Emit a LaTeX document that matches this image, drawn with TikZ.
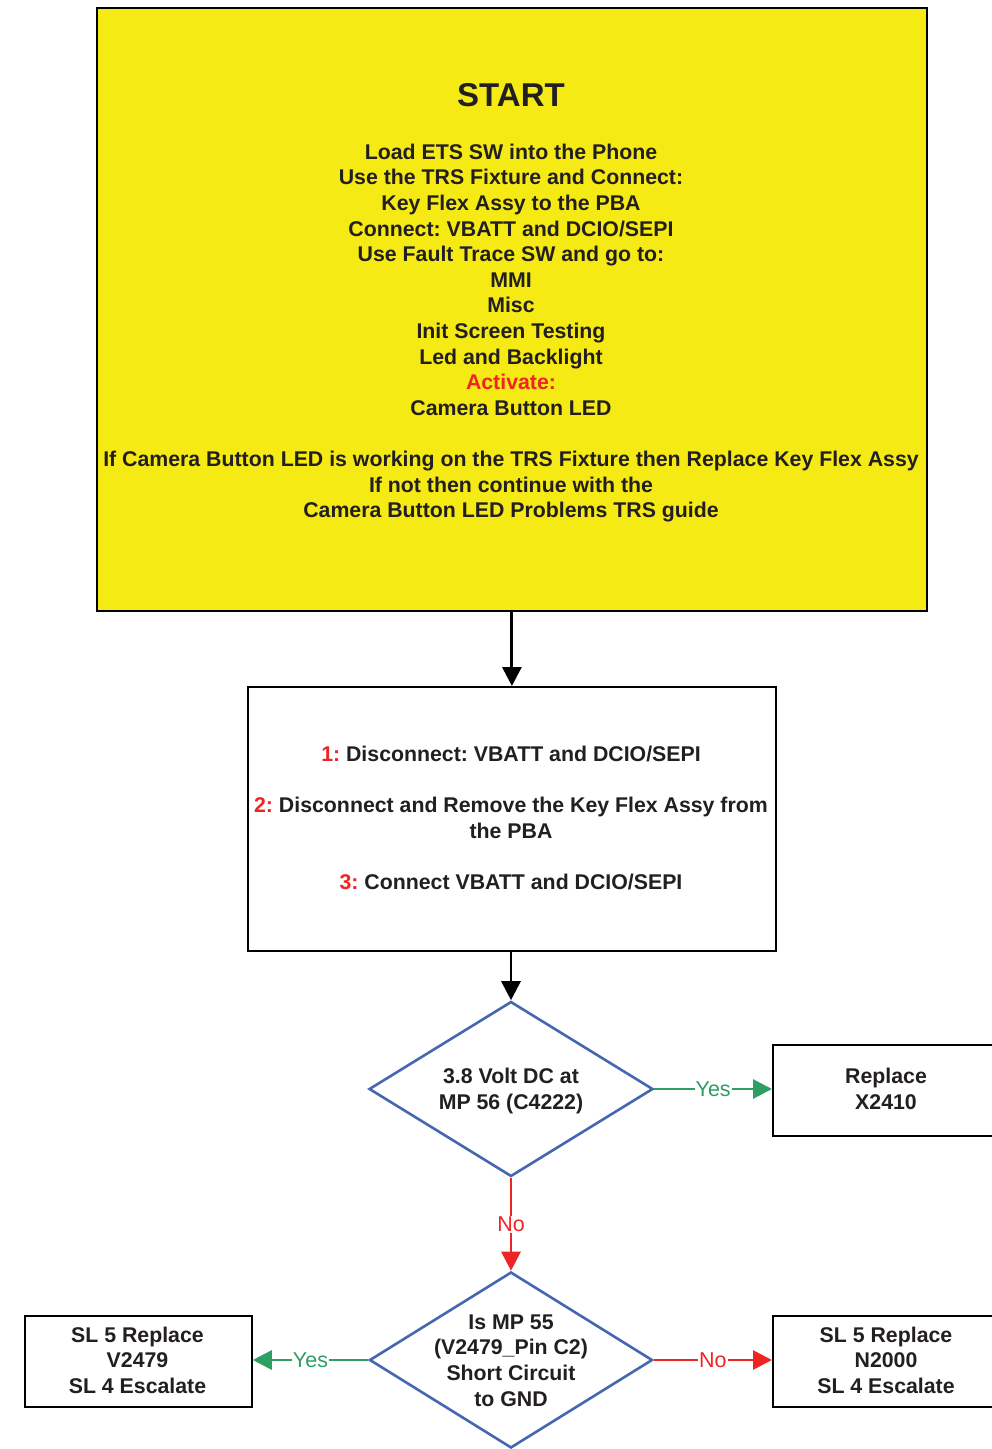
\documentclass[tikz,border=0pt]{standalone}
\usepackage{fontspec}
\setmainfont{Liberation Sans}
\usetikzlibrary{arrows.meta,shapes.geometric}
\definecolor{yel}{HTML}{F5EA14}
\definecolor{redc}{HTML}{EE2524}
\definecolor{grn}{HTML}{2E9E62}
\definecolor{blu}{HTML}{4566B0}
\definecolor{txt}{HTML}{231F20}
\frenchspacing
\begin{document}
\begin{tikzpicture}[x=1pt,y=-1pt,
  bx/.style={draw=black,line width=1.8pt,inner sep=0pt,text=txt,font=\bfseries\fontsize{21.3}{25.6}\selectfont,align=center},
  dia/.style={diamond,draw=blu,line width=2.6pt,inner sep=0pt,fill=white},
  dtxt/.style={text=txt,font=\bfseries\fontsize{21.3}{25.6}\selectfont,align=center,inner sep=0pt},
  arr/.style={line width=2.9pt,-{Triangle[length=19pt,width=19pt]}},
  lbl/.style={fill=white,inner sep=1pt,font=\fontsize{21.5}{24}\selectfont}
]
\useasboundingbox (0,0) rectangle (992,1449);
\clip (0,0) rectangle (992,1449);
\fill[white] (0,0) rectangle (992,1449);

% start box
\node[bx,fill=yel,minimum width=830pt,minimum height=603pt,anchor=north west] (start) at (96,7) {};
\node[dtxt,font=\bfseries\fontsize{33}{38}\selectfont] (st) at (511,95) {START};
\node[dtxt] (sttxt) at (511,333) {Load ETS SW into the Phone\\
Use the TRS Fixture and Connect:\\
Key Flex Assy to the PBA\\
Connect: VBATT and DCIO/SEPI\\
Use Fault Trace SW and go to:\\
MMI\\
Misc\\
Init Screen Testing\\
Led and Backlight\\
\textcolor{redc}{Activate:}\\
Camera Button LED\\[25.6pt]
If Camera Button LED is working on the TRS Fixture then Replace Key Flex Assy\\
If not then continue with the\\
Camera Button LED Problems TRS guide};

% step box
\node[bx,minimum width=528pt,minimum height=264pt,anchor=north west] (steps) at (247,686) {};
\node[dtxt] (stepstxt) at (511,818) {\textcolor{redc}{1:} Disconnect: VBATT and DCIO/SEPI\\[25.6pt]
\textcolor{redc}{2:} Disconnect and Remove the Key Flex Assy from\\
the PBA\\[25.6pt]
\textcolor{redc}{3:} Connect VBATT and DCIO/SEPI};

% diamonds
\node[dia,minimum width=284pt,minimum height=175pt] (d1) at (511,1089) {};
\node[dtxt,font=\bfseries\fontsize{21.3}{26}\selectfont] (d1t) at (511,1091) {3.8 Volt DC at\\MP 56 (C4222)};
\node[dia,minimum width=283pt,minimum height=176pt] (d2) at (511,1360) {};
\node[dtxt,font=\bfseries\fontsize{21.3}{25.6}\selectfont] (d2t) at (511,1360.5) {Is MP 55\\(V2479\_Pin C2)\\Short Circuit\\to GND};

% result boxes
\node[bx,minimum width=228pt,minimum height=91pt,anchor=north west] (r1) at (772,1044) {};
\node[dtxt,font=\bfseries\fontsize{21.3}{26}\selectfont] (r1t) at (886,1089) {Replace\\X2410};
\node[bx,minimum width=227pt,minimum height=91pt,anchor=north west] (r2) at (24,1315) {};
\node[dtxt] (r2t) at (137.5,1360) {SL 5 Replace\\V2479\\SL 4 Escalate};
\node[bx,minimum width=228pt,minimum height=91pt,anchor=north west] (r3) at (772,1315) {};
\node[dtxt] (r3t) at (886,1360) {SL 5 Replace\\N2000\\SL 4 Escalate};

% connectors
\draw[arr,black] (start.south) -- (start.south |- steps.north);
\draw[arr,black] (steps.south -| d1.north) -- (d1.north);
\draw[arr,grn] (d1.east) -- node[lbl,text=grn] {Yes} (d1.east -| r1.west);
\draw[arr,redc] (d1.south) -- node[lbl,text=redc,pos=0.5] {No} (d2.north);
\draw[arr,grn] (d2.west) -- node[lbl,text=grn] {Yes} (d2.west -| r2.east);
\draw[arr,redc] (d2.east) -- node[lbl,text=redc] {No} (d2.east -| r3.west);
\end{tikzpicture}
\end{document}
